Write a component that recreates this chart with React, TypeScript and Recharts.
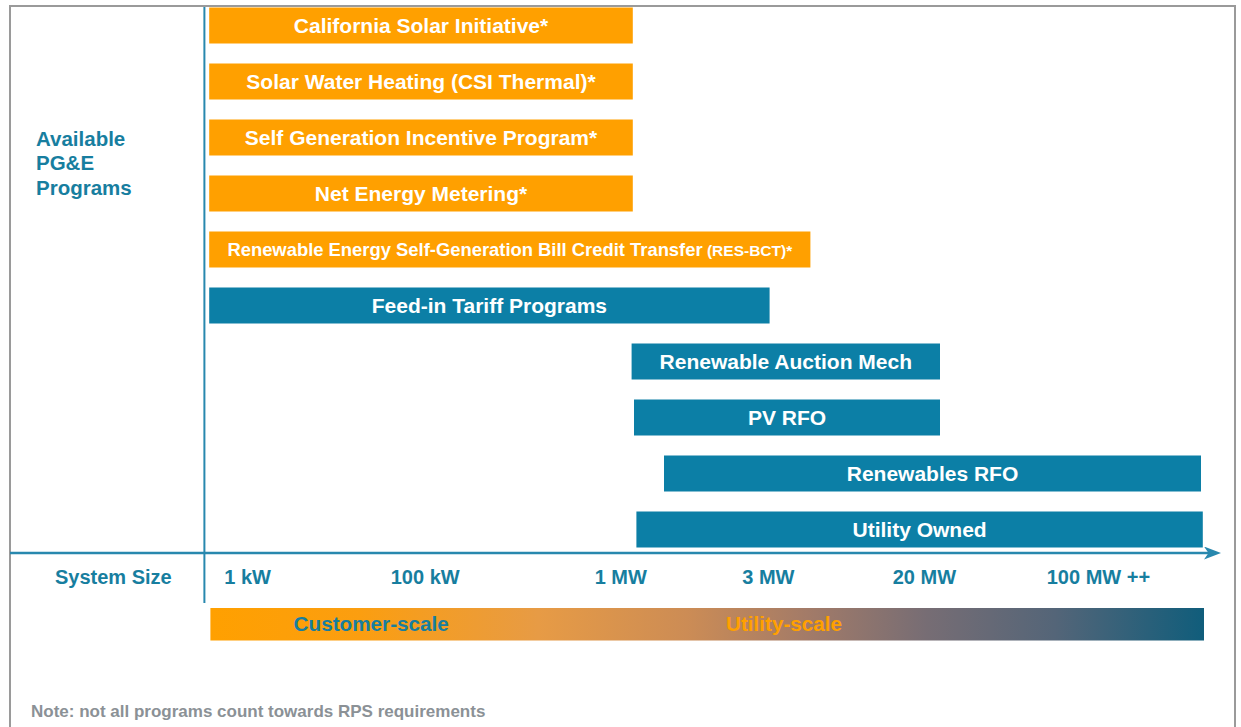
import React from 'react';
import { ComposedChart, Bar, XAxis, YAxis, ReferenceLine, LabelList, Cell } from 'recharts';

// ---- data (positions on a 0–100 "system size" position scale) ----
const PROGRAMS = [
  'California Solar Initiative*',
  'Solar Water Heating (CSI Thermal)*',
  'Self Generation Incentive Program*',
  'Net Energy Metering*',
  'Renewable Energy Self-Generation Bill Credit Transfer',
  'Feed-in Tariff Programs',
  'Renewable Auction Mech',
  'PV RFO',
  'Renewables RFO',
  'Utility Owned',
];
const PROGRAM_NOTES = ['', '', '', '', ' (RES-BCT)*', '', '', '', '', ''];
const PROGRAM_GROUPS = ['customer', 'customer', 'customer', 'customer', 'customer', 'utility', 'utility', 'utility', 'utility', 'utility'];
const RANGE_START = [16.6, 16.6, 16.6, 16.6, 16.6, 16.6, 51.8, 52.0, 54.5, 52.2];
const RANGE_END = [51.9, 51.9, 51.9, 51.9, 66.7, 63.3, 77.5, 77.5, 99.25, 99.4];

const TICK_VALUES = [19.8, 34.6, 50.9, 63.2, 76.2, 90.7];
const TICK_LABELS = ['1 kW', '100 kW', '1 MW', '3 MW', '20 MW', '100 MW ++'];
const DIVIDER_AT = 16.2;

const SCALE_BAND = [16.7, 99.5];
const SCALE_LABELS = ['Customer-scale', 'Utility-scale'];
const SCALE_LABEL_AT = [30.1, 64.5];

// ---- styles ----
const FONT = '"Liberation Sans", Arial, Helvetica, sans-serif';
const ORANGE = '#FFA000';
const TEAL = '#0C7FA6';
const TEXT_TEAL = '#177E9F';
const AXIS = '#2888AE';
const GROUP_COLORS: Record<string, string> = { customer: ORANGE, utility: TEAL };

const programData = PROGRAMS.map((name, i) => ({
  name,
  range: [RANGE_START[i], RANGE_END[i]],
  group: PROGRAM_GROUPS[i],
}));
const scaleData = [{ name: 'scale', range: SCALE_BAND }];

const BarLabel = (props: any) => {
  const { x, y, width, height, value } = props;
  const i = PROGRAMS.indexOf(value);
  const note = PROGRAM_NOTES[i] || '';
  const fs = note ? 18.4 : 21;
  const cx = Number(x) + Number(width) / 2;
  const cy = Number(y) + Number(height) / 2;
  return (
    <text x={cx} y={cy + fs * 0.36} textAnchor="middle" fill="#ffffff" fontWeight="bold" fontFamily={FONT} fontSize={fs}>
      {value}
      {note ? <tspan fontSize={15.5}>{note}</tspan> : null}
    </text>
  );
};

const AxisTick = (props: any) => {
  const { x, y, payload } = props;
  const v = payload.value;
  if (v === DIVIDER_AT) {
    return <line x1={x} x2={x} y1={y} y2={y + 50} stroke={AXIS} strokeWidth={2} />;
  }
  const idx = TICK_VALUES.indexOf(v);
  return (
    <text x={x} y={y + 31} textAnchor="middle" fill={TEXT_TEAL} fontWeight="bold" fontFamily={FONT} fontSize={20}>
      {TICK_LABELS[idx]}
    </text>
  );
};

export default function App() {
  return (
    <div style={{ position: 'absolute', left: 0, top: 0, width: 1241, height: 727, overflow: 'hidden', background: '#ffffff', fontFamily: FONT }}>
      {/* slide frame */}
      <div style={{ position: 'absolute', left: 9, top: 5, width: 1227, height: 800, border: '2.5px solid #9a9a9a', boxSizing: 'border-box' }} />

      <div style={{ position: 'absolute', left: 0, top: 0 }}>
        <ComposedChart
          layout="vertical"
          width={1241}
          height={605}
          data={programData}
          margin={{ top: 7, right: 31, bottom: 0, left: 10 }}
        >
          <defs>
            <marker id="arrowHead" viewBox="0 0 17 13" markerWidth={17} markerHeight={13} refX={6} refY={6.5} orient="auto" markerUnits="userSpaceOnUse">
              <path d="M0,0 L17,6.5 L0,13 L4.5,6.5 Z" fill={AXIS} />
            </marker>
          </defs>
          <XAxis
            type="number"
            domain={[0, 100]}
            ticks={[DIVIDER_AT, ...TICK_VALUES]}
            interval={0}
            height={52}
            tickLine={false}
            tickSize={0}
            tickMargin={0}
            tick={<AxisTick />}
            axisLine={{ stroke: AXIS, strokeWidth: 2.5, markerEnd: 'url(#arrowHead)' }}
            allowDataOverflow
          />
          <YAxis type="category" dataKey="name" hide padding={{ top: -9.5, bottom: -4.5 }} />
          <ReferenceLine x={DIVIDER_AT} stroke={AXIS} strokeWidth={2} />
          <Bar dataKey="range" barSize={36} isAnimationActive={false}>
            {programData.map((d) => (
              <Cell key={d.name} fill={GROUP_COLORS[d.group]} />
            ))}
            <LabelList dataKey="name" content={<BarLabel />} />
          </Bar>
        </ComposedChart>
      </div>

      <div style={{ position: 'absolute', left: 0, top: 600 }}>
        <ComposedChart
          layout="vertical"
          width={1241}
          height={48}
          data={scaleData}
          margin={{ top: 6, right: 31, bottom: 6, left: 10 }}
        >
          <defs>
            <linearGradient id="scaleGradient" x1="0" y1="0" x2="1" y2="0">
              <stop offset="0%" stopColor="#FFA000" />
              <stop offset="15%" stopColor="#FB9E10" />
              <stop offset="33%" stopColor="#E79B45" />
              <stop offset="48%" stopColor="#CC8C55" />
              <stop offset="60%" stopColor="#A37B68" />
              <stop offset="72%" stopColor="#776D74" />
              <stop offset="85%" stopColor="#546578" />
              <stop offset="100%" stopColor="#105D7B" />
            </linearGradient>
          </defs>
          <XAxis type="number" domain={[0, 100]} hide />
          <YAxis type="category" dataKey="name" hide />
          <Bar dataKey="range" barSize={36} fill="url(#scaleGradient)" isAnimationActive={false} />
          <ReferenceLine
            x={SCALE_LABEL_AT[0]}
            stroke="none"
            label={{ value: SCALE_LABELS[0], position: 'center', fill: TEXT_TEAL, fontSize: 20.7, fontWeight: 'bold', fontFamily: FONT }}
          />
          <ReferenceLine
            x={SCALE_LABEL_AT[1]}
            stroke="none"
            label={{ value: SCALE_LABELS[1], position: 'center', fill: ORANGE, fontSize: 20.7, fontWeight: 'bold', fontFamily: FONT }}
          />
        </ComposedChart>
      </div>

      <svg width={1241} height={727} style={{ position: 'absolute', left: 0, top: 0, pointerEvents: 'none' }}>
        <text fontFamily={FONT} fontWeight="bold" fontSize={20.5} fill={TEXT_TEAL}>
          <tspan x={36} y={146}>Available</tspan>
          <tspan x={36} y={170}>PG&amp;E</tspan>
          <tspan x={36} y={195}>Programs</tspan>
        </text>
        <text x={55} y={584} fontFamily={FONT} fontWeight="bold" fontSize={20} fill={TEXT_TEAL}>System Size</text>
        <text x={31} y={717} fontFamily={FONT} fontWeight="bold" fontSize={17} fill="#8B9196">Note: not all programs count towards RPS requirements</text>
      </svg>
    </div>
  );
}
